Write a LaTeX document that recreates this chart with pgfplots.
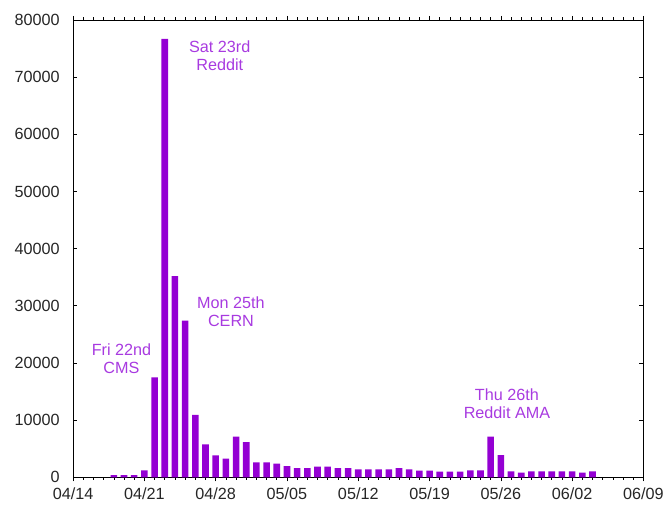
\documentclass[border=0pt]{standalone}
\usepackage{fontspec}
\setmainfont{Liberation Sans}
\usepackage{pgfplots}
\pgfplotsset{compat=1.18}
\definecolor{barc}{HTML}{9400D3}
\definecolor{labc}{HTML}{A83AE0}
\begin{document}
\begin{tikzpicture}
\begin{axis}[
 scale only axis, width=572bp, height=458.7bp,
 xmin=0, xmax=56, ymin=0, ymax=80000,
 xtick={0,7,...,56},
 xticklabels={04/14,04/21,04/28,05/05,05/12,05/19,05/26,06/02,06/09},
 minor x tick num=6,
 ytick={0,10000,...,80000},
 scaled y ticks=false,
 yticklabel style={/pgf/number format/fixed,/pgf/number format/1000 sep={}},
 /pgf/number format/assume math mode=true,
 tick align=inside,
 major tick length=4bp, minor tick length=2.5bp,
 tick style={black, line width=0.6bp},
 axis line style={black, line width=0.8bp},
 ticklabel style={font=\fontsize{16.3}{19}\selectfont, text=black!85},
 xticklabel style={yshift=-3bp},
 yticklabel style={xshift=-10bp},
 ybar, bar width=6.6bp, bar shift=0pt,
 clip=false,
]
\addplot[fill=barc, draw=none] coordinates {
(4,400)(5,400)(6,400)(7,1200)(8,17500)(9,76700)(10,35200)(11,27400)(12,10900)(13,5750)(14,3850)(15,3250)(16,7100)(17,6150)(18,2600)(19,2600)(20,2400)(21,1950)(22,1600)(23,1600)(24,1850)(25,1850)(26,1600)(27,1600)(28,1400)(29,1400)(30,1400)(31,1400)(32,1600)(33,1400)(34,1150)(35,1150)(36,1000)(37,1000)(38,1000)(39,1200)(40,1200)(41,7100)(42,3900)(43,1050)(44,800)(45,1050)(46,1050)(47,1050)(48,1050)(49,1050)(50,800)(51,1050)
};
\node[align=center, text=labc, inner sep=0pt, font=\fontsize{16.3}{18}\selectfont] at (axis cs:14.4,73800) {Sat 23rd\\Reddit};
\node[align=center, text=labc, inner sep=0pt, font=\fontsize{16.3}{18}\selectfont] at (axis cs:15.5,28900) {Mon 25th\\CERN};
\node[align=center, text=labc, inner sep=0pt, font=\fontsize{16.3}{18}\selectfont] at (axis cs:4.75,20750) {Fri 22nd\\CMS};
\node[align=center, text=labc, inner sep=0pt, font=\fontsize{16.3}{18}\selectfont] at (axis cs:42.6,12800) {Thu 26th\\Reddit AMA};
\end{axis}
\path (current axis.south west) ++(-73.3bp,-27.3bp) rectangle ++(667bp,506bp);
\end{tikzpicture}
\end{document}
